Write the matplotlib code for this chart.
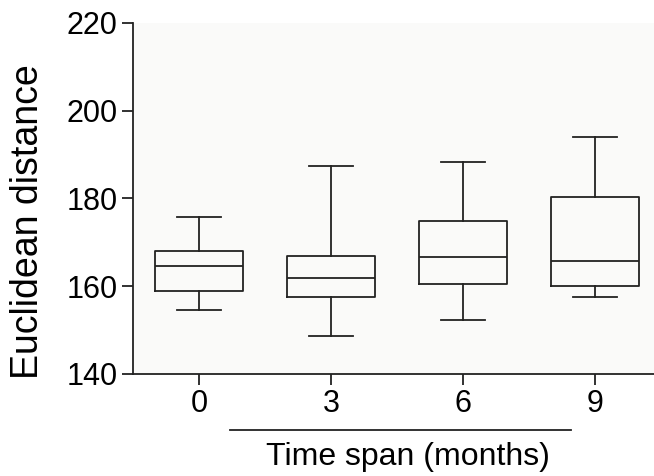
import matplotlib
matplotlib.use("Agg")
import matplotlib.pyplot as plt
from matplotlib.lines import Line2D

plt.rcParams['font.family'] = ['Liberation Sans', 'DejaVu Sans']

# data
months = ['0', '3', '6', '9']
whisk_lo = [154.5, 148.7, 152.3, 157.6]
q1 = [158.9, 157.5, 160.6, 160.1]
med = [164.6, 161.8, 166.7, 165.8]
q3 = [168.0, 167.0, 174.9, 180.4]
whisk_hi = [175.8, 187.5, 188.3, 194.1]
yticks = [140, 160, 180, 200, 220]

stats = []
for i in range(len(months)):
    stats.append({'whislo': whisk_lo[i], 'q1': q1[i], 'med': med[i],
                  'q3': q3[i], 'whishi': whisk_hi[i], 'fliers': [],
                  'label': months[i]})

fig = plt.figure(figsize=(6.54, 4.76), dpi=100)
ax = fig.add_axes([0.2034, 0.2143, 0.8073, 0.7374])
ax.set_facecolor('#fafaf9')

lp = dict(color='#222222', linewidth=1.3)
ax.bxp(stats, positions=range(len(months)), widths=0.667,
       showfliers=False, boxprops=lp, whiskerprops=lp, capprops=lp,
       medianprops=lp, capwidths=0.34)

ax.set_xlim(-0.5, 3.5)
ax.set_ylim(140, 220)
ax.set_yticks(yticks)
ax.spines['top'].set_visible(False)
ax.spines['right'].set_visible(False)
for s in ['left', 'bottom']:
    ax.spines[s].set_linewidth(1.3)
    ax.spines[s].set_color('#222222')
ax.tick_params(axis='both', labelsize=22, length=8, width=1.3,
               color='#222222', pad=3)

ax.set_ylabel('Euclidean distance', fontsize=27, va='center')
ax.yaxis.set_label_coords(-0.199, 0.435)
ax.set_xlabel('Time span (months)', fontsize=23, va='center')
ax.xaxis.set_label_coords(0.52, -0.236)

# bracket line above the x label
fig.add_artist(Line2D([230 / 654, 571 / 654], [1 - 430 / 476, 1 - 430 / 476],
                      color='#222222', linewidth=1.3))

fig.savefig('out.png', dpi=100)
